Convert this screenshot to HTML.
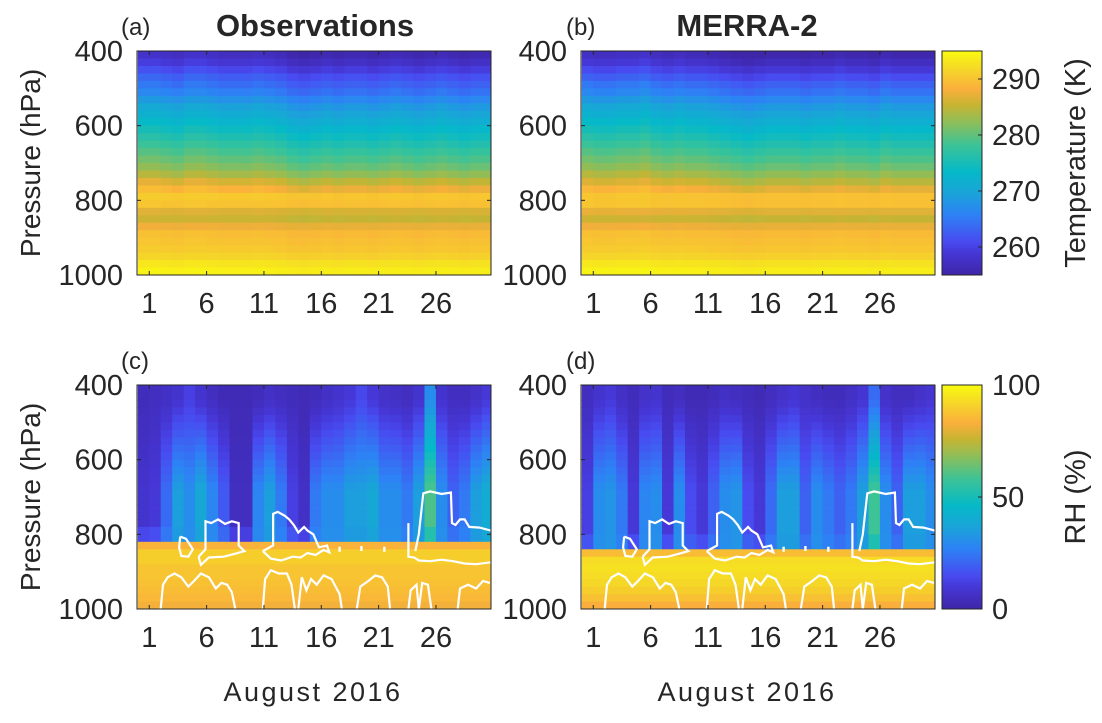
<!DOCTYPE html>
<html><head><meta charset="utf-8"><style>
html,body{margin:0;padding:0;background:#fff}
svg text{font-family:"Liberation Sans",sans-serif;fill:#262626}
</style></head><body>
<svg id="fig" width="1102" height="718" viewBox="0 0 1102 718" xmlns="http://www.w3.org/2000/svg">
<defs>
<linearGradient id="parulaV" x1="0" y1="1" x2="0" y2="0"></linearGradient>
</defs>
<g id="root"></g>
</svg>
<script>
// ---------- data ----------
const days = [1,2,3,4,5,6,7,8,9,10,11,12,13,14,15,16,17,18,19,20,21,22,23,24,25,26,27,28,29,30,31];
const xTickLabels = [1,6,11,16,21,26];
const yTickLabels = [400,600,800,1000];
const levels = [410,430,450,470,490,510,530,550,570,590,610,630,650,670,690,710,730,750,770,790,810,830,850,870,890,910,930,950,970,990];
const tempTicks = [260,270,280,290];
const rhTicks = [0,50,100];
// temperature base profiles (K)
const tBaseObs = [257,258.5,260.5,262.5,264,265.5,267.5,269.5,271,272.5,274,275.5,277,278.5,280,281.5,283.5,286,288.5,290.5,290,286.5,285.5,287.5,289.5,290,290.5,291.5,293,294];
const tBaseMerra = [256.5,258,260,262,264,265.5,267.5,269.5,271,272.5,274,275.5,277,278.5,280,281.5,283.5,285.5,288,290,290,287,285.5,287.5,289.5,290,290.5,291.5,293,294];
// per-day temperature anomaly aloft (K)
const tAnomObs = [1,1,0.5,0,1,1,0.5,0,0,0,0.5,0,-0.5,-1.5,-2,-1.5,-1,-1.5,-1,-1,-1.5,-1,-0.5,-1,-1.5,-1,-0.5,-1,-1.5,-1,-1];
const tAnomMerra = [1,0.5,0.5,1,1,1.5,0.5,0,0.5,0,0,-0.5,-1,-1.5,-2,-1.5,-1,-1,-1,-1.5,-1,-1,-0.5,-1,-1,-1.5,-0.5,-1,-1,-1,-1];
// RH (%)
const rhUpperObs = [4,5,6,8,12,8,5,3,3,3,4,6,5,4,3,4,6,8,10,14,10,7,6,5,8,30,8,5,5,7,10];
const rhMidObs = [8,10,22,35,30,38,28,18,5,5,28,35,25,12,6,25,30,30,35,35,38,30,30,25,35,60,30,20,25,35,40];
const rhLowObs = [84,90,90,88,88,87,86,85,82,78];
const rhUpperMerra = [5,8,10,6,4,7,8,4,5,3,3,4,6,5,4,3,5,7,9,7,5,4,4,6,9,22,7,5,5,7,9];
const rhMidMerra = [12,30,32,25,10,28,30,10,30,15,10,20,30,32,15,10,22,35,35,20,30,25,20,25,35,58,30,20,35,35,30];
const rhLowMerra = [86,93,94,93,92,90,87,83,79,76];
const moistTopObs = [820,820,820,830,830,830,830,830,830,830,820,820,820,830,830,830,820,820,820,830,830,830,830,830,830,830,830,830,830,830,830];
const moistTopMerra = [840,840,840,840,840,840,840,840,840,840,840,840,840,850,850,850,840,840,840,840,840,850,850,850,840,840,850,850,850,850,850];
// white contours [day, hPa]
const contourLines = [
 [[3.7,806],[4.2,812],[4.8,840],[4.4,860],[3.8,858],[3.6,835],[3.7,806]],
 [[5.3,860],[5.5,882],[6.2,862],[7.5,860],[8.5,852],[9.3,845],[8.8,830],[8.8,770],[8.2,765],[7.6,772],[7,760],[6.4,770],[5.9,765],[5.9,840],[5.3,860]],
 [[10.9,845],[11.6,865],[12.5,870],[13.5,860],[14.2,862],[14.8,850],[15.5,855],[16.2,842],[16.7,848],[16.5,830],[15.8,835],[15.3,800],[14.8,790],[14.5,780],[14,795],[13.6,775],[13.2,760],[12.8,750],[12.2,740],[11.8,745],[11.8,830],[10.9,845]],
 [[23.6,770],[23.6,860],[24.1,862],[24.5,870],[25.5,872],[26.5,868],[27.5,872],[28.5,878],[29.5,880],[30.8,875]],
 [[24.2,845],[24.5,800],[24.9,690],[25.5,685],[26.5,692],[27.3,688],[27.4,770],[27.7,775],[28.1,760],[28.5,760],[28.9,780],[29.8,782],[30.8,790]],
 [[2.0,1000],[2.2,935],[2.6,915],[3.2,905],[3.8,915],[4.4,940],[4.9,925],[5.5,905],[6.2,915],[6.8,945],[7.3,930],[7.8,935],[8.2,955],[8.5,1000]],
 [[10.9,1000],[11.1,920],[11.6,896],[12.3,905],[13,905],[13.4,935],[13.7,1000]],
 [[14,1000],[14.3,915],[14.7,950],[15.1,920],[15.6,935],[16.2,910],[16.9,920],[17.6,960],[17.8,1000]],
 [[19.1,1000],[19.4,940],[20.1,925],[20.7,910],[21.3,915],[21.8,940],[22,1000]],
 [[23.6,1000],[23.8,950],[24.3,935],[24.5,1000],[24.8,930],[25.3,935],[25.6,1000]],
 [[27.9,1000],[28.1,945],[28.8,935],[29.5,945],[30.1,925],[30.7,930]]
];
const contourDots = [[17.6,840],[19.5,838],[21.5,840]];

// ---------- helpers ----------
const NS="http://www.w3.org/2000/svg";
const root=document.getElementById('root');
function mk(tag,attrs,parent){const e=document.createElementNS(NS,tag);for(const k in attrs)e.setAttribute(k,attrs[k]);(parent||root).appendChild(e);return e;}
const par=[[0,[62,38,168]],[0.1,[70,55,215]],[0.15,[72,75,240]],[0.27,[45,130,245]],[0.37,[25,165,215]],[0.46,[5,185,200]],[0.58,[60,195,150]],[0.68,[140,190,90]],[0.76,[200,180,50]],[0.83,[250,175,60]],[0.92,[245,215,40]],[1,[249,251,14]]];
function parula(t){t=Math.max(0,Math.min(1,t));for(let i=1;i<par.length;i++){if(t<=par[i][0]){const a=par[i-1],b=par[i];const f=(t-a[0])/(b[0]-a[0]);const c=a[1].map((v,k)=>Math.round(v+(b[1][k]-v)*f));return `rgb(${c[0]},${c[1]},${c[2]})`;}}return 'rgb(249,251,14)';}
const grad=document.getElementById('parulaV');
par.forEach(s=>{mk('stop',{offset:s[0],'stop-color':parula(s[0])},grad);});

const D0=-0.07,D1=30.8;
function panelAxes(x0,x1,y0,y1){return {x:d=>x0+(d-D0)/(D1-D0)*(x1-x0),y:p=>y0+(p-400)/600*(y1-y0),x0,x1,y0,y1};}

let clipN=0;
function drawPanel(ax,valueFn,vmin,vmax,name,withContours){
  const g=mk('g',{});
  
  
  const cid='clip'+(clipN++);
  const cp=mk('clipPath',{id:cid},g);
  mk('rect',{x:ax.x0,y:ax.y0,width:ax.x1-ax.x0,height:ax.y1-ax.y0},cp);
  const hg=mk('g',{'clip-path':`url(#${cid})`},g);
  for(let i=0;i<days.length;i++){
    for(let j=0;j<levels.length;j++){
      const v=valueFn(i,j);
      const xa=ax.x(days[i]-1),xb=ax.x(days[i]);
      const ya=ax.y(levels[j]-10),yb=ax.y(levels[j]+10);
      const r=mk('rect',{x:xa.toFixed(2),y:ya.toFixed(2),width:(xb-xa+0.6).toFixed(2),height:(yb-ya+0.6).toFixed(2),fill:parula((v-vmin)/(vmax-vmin))},hg);
      
      
    }
  }
  if(withContours){
    contourLines.forEach(line=>{
      const pl=mk('polyline',{points:line.map(q=>ax.x(q[0]).toFixed(1)+','+ax.y(q[1]).toFixed(1)).join(' '),fill:'none',stroke:'#fff','stroke-width':2.2},hg);
      
      
    });
    contourDots.forEach(q=>{
      const c=mk('rect',{x:ax.x(q[0])-1.2,y:ax.y(q[1])-2.5,width:2.4,height:5,fill:'#fff'},hg);
      
      
    });
  }
  const fr=mk('rect',{x:ax.x0,y:ax.y0,width:ax.x1-ax.x0,height:ax.y1-ax.y0,fill:'none',stroke:'#262626','stroke-width':1},g);
  
  
  xTickLabels.forEach(d=>{
    const x=ax.x(d);
    mk('line',{x1:x,x2:x,y1:ax.y1,y2:ax.y1-4,stroke:'#262626'},g);
    mk('line',{x1:x,x2:x,y1:ax.y0,y2:ax.y0+4,stroke:'#262626'},g);
    const t=mk('text',{x:x,y:ax.y1+38,'text-anchor':'middle','font-size':29},g);
    t.textContent=d;
    
    
  });
  yTickLabels.forEach(p=>{
    const y=ax.y(p);
    mk('line',{x1:ax.x0,x2:ax.x0+4,y1:y,y2:y,stroke:'#262626'},g);
    mk('line',{x1:ax.x1,x2:ax.x1-4,y1:y,y2:y,stroke:'#262626'},g);
    const t=mk('text',{x:ax.x0-14,y:y+10,'text-anchor':'end','font-size':29},g);
    t.textContent=p;
    
    
  });
}

function tempFn(base,anom){return (i,j)=>{const p=levels[j];const w=p<780?1:0.25;return base[j]+anom[i]*w;};}
function rhFn(up,mid,low,top){return (i,j)=>{const p=levels[j];
  if(p>=top[i]){const k=Math.min(low.length-1,Math.floor((p-top[i])/20));return low[k];}
  const f=Math.max(0,Math.min(1,(p-440)/240));
  let v=up[i]+(mid[i]-up[i])*f;
  if(p>=top[i]-40)v=v*0.75+8;
  return v;};}

const A=panelAxes(137,491,51,275), B=panelAxes(581,935,51,275);
const C=panelAxes(137,491,385,609), Dp=panelAxes(581,935,385,609);
drawPanel(A,tempFn(tBaseObs,tAnomObs),255,295,'panel-a-obs-temperature',false);
drawPanel(B,tempFn(tBaseMerra,tAnomMerra),255,295,'panel-b-merra-temperature',false);
drawPanel(C,rhFn(rhUpperObs,rhMidObs,rhLowObs,moistTopObs),0,100,'panel-c-obs-rh',true);
drawPanel(Dp,rhFn(rhUpperMerra,rhMidMerra,rhLowMerra,moistTopMerra),0,100,'panel-d-merra-rh',true);

function colorbar(y0,y1,vmin,vmax,ticks,label,name){
  const g=mk('g',{});
  
  
  mk('rect',{x:942,y:y0,width:40,height:y1-y0,fill:'url(#parulaV)',stroke:'#262626','stroke-width':1},g);
  ticks.forEach(v=>{
    const y=y1-(v-vmin)/(vmax-vmin)*(y1-y0);
    mk('line',{x1:978,x2:982,y1:y,y2:y,stroke:'#262626'},g);
    const t=mk('text',{x:992,y:y+10,'font-size':29},g);
    t.textContent=v;
    
    
  });
  const cy=(y0+y1)/2;
  const t=mk('text',{x:1085,y:cy,'text-anchor':'middle','font-size':29,transform:`rotate(-90 1085 ${cy})`},g);
  t.textContent=label;
  
  
}
colorbar(51,275,255,295,tempTicks,'Temperature (K)','temperature-colorbar');
colorbar(385,609,0,100,rhTicks,'RH (%)','rh-colorbar');

function txt(s,attrs,name){const t=mk('text',attrs);t.textContent=s;return t;}
txt('Observations',{x:315,y:36,'text-anchor':'middle','font-size':31,'font-weight':'bold',fill:'#000'},'title-observations');
txt('MERRA-2',{x:747,y:36,'text-anchor':'middle','font-size':31,'font-weight':'bold',fill:'#000'},'title-merra2');
txt('(a)',{x:121,y:35,'font-size':24,fill:'#000'},'panel-label-a');
txt('(b)',{x:566,y:35,'font-size':24,fill:'#000'},'panel-label-b');
txt('(c)',{x:121,y:369,'font-size':24,fill:'#000'},'panel-label-c');
txt('(d)',{x:566,y:369,'font-size':24,fill:'#000'},'panel-label-d');
txt('Pressure (hPa)',{x:40,y:163,'text-anchor':'middle','font-size':28,transform:'rotate(-90 40 163)'},'y-axis-title-top');
txt('Pressure (hPa)',{x:40,y:497,'text-anchor':'middle','font-size':28,transform:'rotate(-90 40 497)'},'y-axis-title-bottom');
txt('August 2016',{x:313,y:701,'text-anchor':'middle','font-size':27,'letter-spacing':'2.5'},'x-axis-title-c');
txt('August 2016',{x:747,y:701,'text-anchor':'middle','font-size':27,'letter-spacing':'2.5'},'x-axis-title-d');
</script>
</body></html>
